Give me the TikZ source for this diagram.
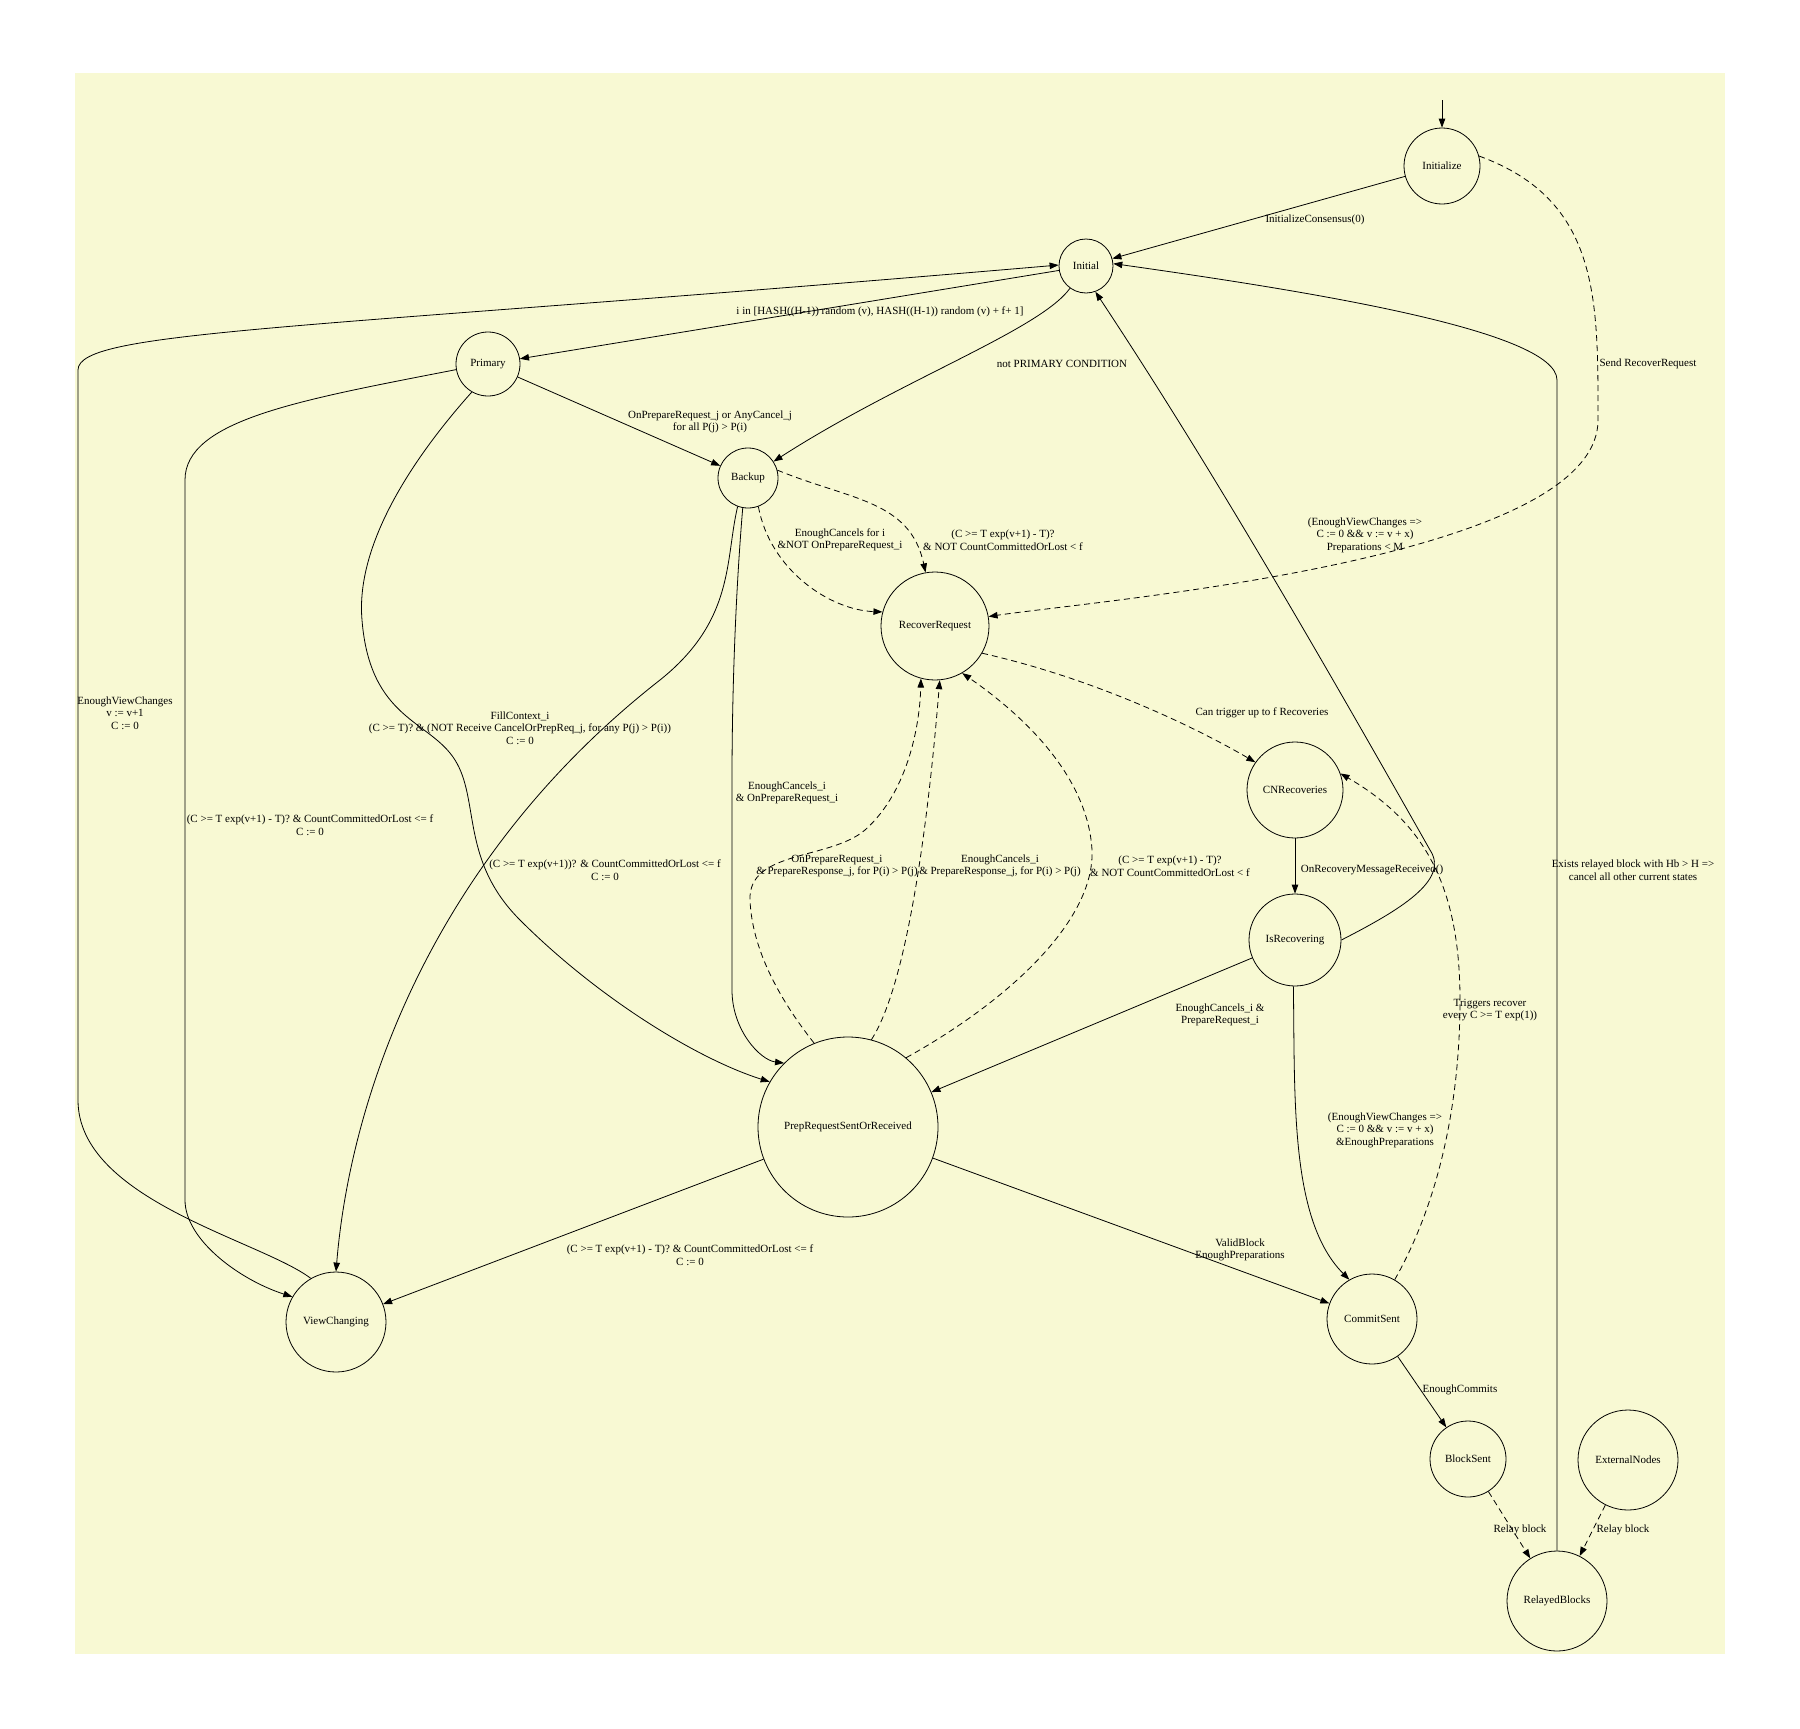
\documentclass[tikz,border=0pt]{standalone}
\usepackage{fontspec}
\setmainfont{Liberation Serif}
\usetikzlibrary{arrows.meta}
\begin{document}
\begin{tikzpicture}[x=1pt,y=-1pt,
  st/.style={circle,draw,thick,inner sep=0pt,font=\fontsize{11}{12}\selectfont},
  e/.style={draw,thick,-{Triangle[length=9pt,width=6.5pt]}},
  d/.style={e,dashed,dash pattern=on 6pt off 4pt},
  lb/.style={font=\fontsize{11}{12.5}\selectfont,align=center,inner sep=1pt}]
\useasboundingbox (0,0) rectangle (1800,1729);
\fill[fill={rgb,255:red,248;green,249;blue,211}] (75,73) rectangle (1725,1654);
\node[st,minimum size=76pt] (init) at (1442,166) {Initialize};
\node[st,minimum size=54pt] (ini) at (1086,266) {Initial};
\node[st,minimum size=64pt] (pri) at (488,364) {Primary};
\node[st,minimum size=60pt] (bak) at (748,478) {Backup};
\node[st,minimum size=108pt] (rr) at (935,626) {RecoverRequest};
\node[st,minimum size=96pt] (cn) at (1295,790) {CNRecoveries};
\node[st,minimum size=92pt] (isr) at (1295,940) {IsRecovering};
\node[st,minimum size=180pt] (prep) at (848,1127) {PrepRequestSentOrReceived};
\node[st,minimum size=100pt] (vc) at (336,1322) {ViewChanging};
\node[st,minimum size=90pt] (cs) at (1372,1319) {CommitSent};
\node[st,minimum size=76pt] (bs) at (1468,1459) {BlockSent};
\node[st,minimum size=100pt] (ext) at (1628,1460) {ExternalNodes};
\node[st,minimum size=100pt] (rel) at (1557,1601) {RelayedBlocks};
\coordinate (start) at (1442,100);

\draw[e] (start) -- (init);
\draw[e] (init) -- (ini);
\node[lb] at (1315,220) {InitializeConsensus(0)};
\draw[d] (init.15) .. controls (1600,200) and (1598,300) .. (1598,420) .. controls (1598,560) and (1100,600) .. (rr.10);
\node[lb] at (1648,364) {Send RecoverRequest};
\draw[e] (ini) -- (pri);
\node[lb] at (880,312) {i in [HASH((H-1)) random (v), HASH((H-1)) random (v) + f+ 1]};
\draw[e] (ini) .. controls (1040,330) and (900,380) .. (bak);
\node[lb] at (1062,364) {not PRIMARY CONDITION};
\draw[e] (vc.120) .. controls (260,1240) and (78,1200) .. (78,1100) -- (78,370) .. controls (78,330) and (300,330) .. (ini.178);
\node[lb] at (125,713) {EnoughViewChanges\\v := v+1\\C := 0};
\draw[e] (pri) -- (bak);
\node[lb] at (710,422) {OnPrepareRequest\_j or AnyCancel\_j\\for all P(j) > P(i)};
\draw[e] (pri.190) .. controls (300,400) and (185,420) .. (185,480) -- (185,1200) .. controls (185,1240) and (240,1280) .. (vc.150);
\node[lb] at (310,825) {(C >= T exp(v+1) - T)? \& CountCommittedOrLost <= f\\C := 0};
\draw[e] (pri.240) .. controls (420,450) and (355,540) .. (362,620) .. controls (370,720) and (430,720) .. (455,760) .. controls (480,800) and (460,860) .. (520,920) .. controls (600,1000) and (700,1060) .. (prep.150);
\node[lb] at (520,728) {FillContext\_i\\(C >= T)? \& (NOT Receive CancelOrPrepReq\_j, for any P(j) > P(i))\\C := 0};
\draw[e] (bak.250) .. controls (725,560) and (735,620) .. (660,680) .. controls (430,860) and (350,1100) .. (vc.north);
\node[lb] at (605,870) {(C >= T exp(v+1))? \& CountCommittedOrLost <= f\\C := 0};
\draw[e] (bak.260) .. controls (735,600) and (732,700) .. (732,780) -- (732,990) .. controls (732,1030) and (760,1060) .. (prep.135);
\node[lb] at (787,793) {EnoughCancels\_i\\\& OnPrepareRequest\_i};
\draw[d] (bak.290) .. controls (770,570) and (830,610) .. (rr.165);
\node[lb] at (840,540) {EnoughCancels for i\\\&NOT OnPrepareRequest\_i};
\draw[d] (bak.15) .. controls (850,500) and (910,500) .. (rr.100);
\node[lb] at (1003,540) {(C >= T exp(v+1) - T)?\\\& NOT CountCommittedOrLost < f};
\draw[d] (prep.112) .. controls (780,1000) and (752,950) .. (750,900) .. controls (748,850) and (830,860) .. (865,830) .. controls (910,790) and (920,720) .. (rr.255);
\node[lb] at (837,866) {OnPrepareRequest\_i\\\& PrepareResponse\_j, for P(i) > P(j)};
\draw[d] (prep.75) .. controls (910,980) and (930,800) .. (rr.275);
\node[lb] at (1000,866) {EnoughCancels\_i\\\& PrepareResponse\_j, for P(i) > P(j)};
\draw[d] (prep.50) .. controls (1010,1000) and (1095,920) .. (1092,850) .. controls (1088,780) and (1030,720) .. (rr.300);
\node[lb] at (1170,866) {(C >= T exp(v+1) - T)?\\\& NOT CountCommittedOrLost < f};
\draw[e] (isr.east) .. controls (1400,910) and (1450,880) .. (1430,850) .. controls (1300,620) and (1200,450) .. (ini.290);
\node[lb] at (1365,535) {(EnoughViewChanges =>\\C := 0 \&\& v := v + x)\\Preparations < M};
\draw[d] (rr.330) .. controls (1100,680) and (1200,730) .. (cn.145);
\node[lb] at (1262,713) {Can trigger up to f Recoveries};
\draw[e] (cn) -- (isr);
\node[lb] at (1372,870) {OnRecoveryMessageReceived()};
\draw[e] (isr) -- (prep);
\node[lb] at (1220,1015) {EnoughCancels\_i \&\\PrepareRequest\_i};
\draw[e] (isr.268) .. controls (1295,1100) and (1290,1220) .. (cs.120);
\node[lb] at (1385,1130) {(EnoughViewChanges =>\\C := 0 \&\& v := v + x)\\\&EnoughPreparations};
\draw[e] (prep) -- (vc);
\node[lb] at (690,1255) {(C >= T exp(v+1) - T)? \& CountCommittedOrLost <= f\\C := 0};
\draw[e] (prep) -- (cs);
\node[lb] at (1240,1250) {ValidBlock\\EnoughPreparations};
\draw[d] (cs.60) .. controls (1440,1200) and (1460,1100) .. (1460,1000) .. controls (1460,880) and (1420,820) .. (cn.20);
\node[lb] at (1490,1010) {Triggers recover\\every C >= T exp(1))};
\draw[e] (cs) -- (bs);
\node[lb] at (1460,1390) {EnoughCommits};
\draw[d] (bs) -- (rel);
\node[lb] at (1520,1530) {Relay block};
\draw[d] (ext) -- (rel);
\node[lb] at (1623,1530) {Relay block};
\draw[e] (rel.north) -- (1557,380) .. controls (1557,330) and (1300,290) .. (ini.5);
\node[lb] at (1633,870) {Exists relayed block with Hb > H =>\\cancel all other current states};
\end{tikzpicture}
\end{document}
